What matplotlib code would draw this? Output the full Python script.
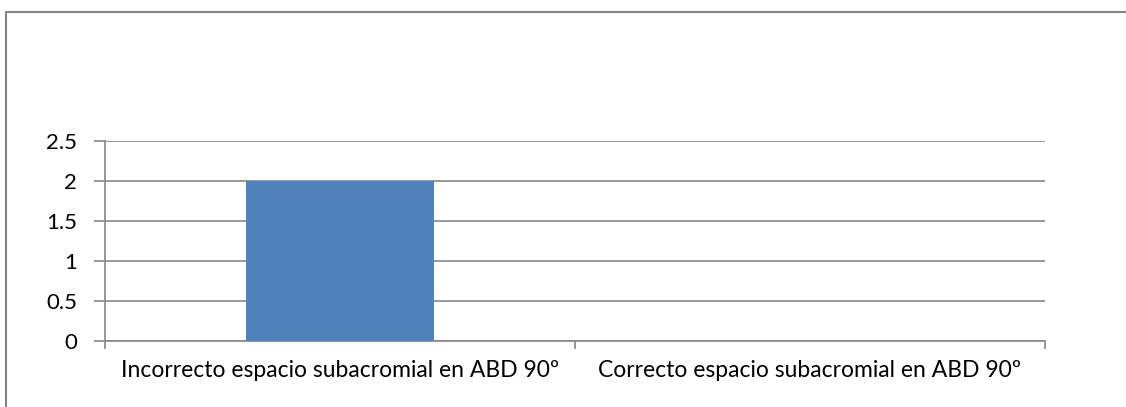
import matplotlib
matplotlib.use('Agg')
import matplotlib.pyplot as plt
from matplotlib.patches import Rectangle
import numpy as np

CATEGORIES = ['Incorrecto espacio subacromial en ABD 90º',
              'Correcto espacio subacromial en ABD 90º']
VALUES = [2, 0]
YTICKS = [0, 0.5, 1, 1.5, 2, 2.5]

GRAY = '#868686'
BLUE = '#4f81bd'

plt.rcParams['font.family'] = ['Lato', 'DejaVu Sans']

fig = plt.figure(figsize=(11.26, 4.07), dpi=100)
W, H = 1126, 407

# outer chart frame (runs past the right and bottom edges)
fig.patches.append(Rectangle((6 / W, -0.1), 1.2, 1 - 12 / H + 0.1,
                             transform=fig.transFigure, fill=False,
                             edgecolor=GRAY, linewidth=1.5))

ax = fig.add_axes([105 / W, 1 - 341 / H, (1045 - 105) / W, (341 - 141) / H])

x = np.arange(len(CATEGORIES))
ax.bar(x, VALUES, width=0.4, color=BLUE, zorder=3)

ax.set_xlim(-0.5, len(CATEGORIES) - 0.5)
ax.set_ylim(0, 2.5)
ax.set_yticks(YTICKS)
ax.set_yticklabels([f'{v:g}' for v in YTICKS], fontsize=16)
ax.yaxis.grid(True, color=GRAY, linewidth=1.2, zorder=0)

ax.set_xticks(np.arange(-0.5, len(CATEGORIES)), minor=False)
ax.set_xticklabels([])
ax.set_xticks(x, minor=True)
ax.set_xticklabels(CATEGORIES, minor=True, fontsize=16.5)
ax.tick_params(axis='x', which='minor', length=0, pad=14)
ax.tick_params(axis='x', which='major', length=6, color=GRAY, width=1.2)
ax.tick_params(axis='y', length=8, color=GRAY, width=1.2, pad=12)

for side in ['top', 'right']:
    ax.spines[side].set_visible(False)
for side in ['left', 'bottom']:
    ax.spines[side].set_color(GRAY)
    ax.spines[side].set_linewidth(1.2)

fig.savefig('out.png', dpi=100)
